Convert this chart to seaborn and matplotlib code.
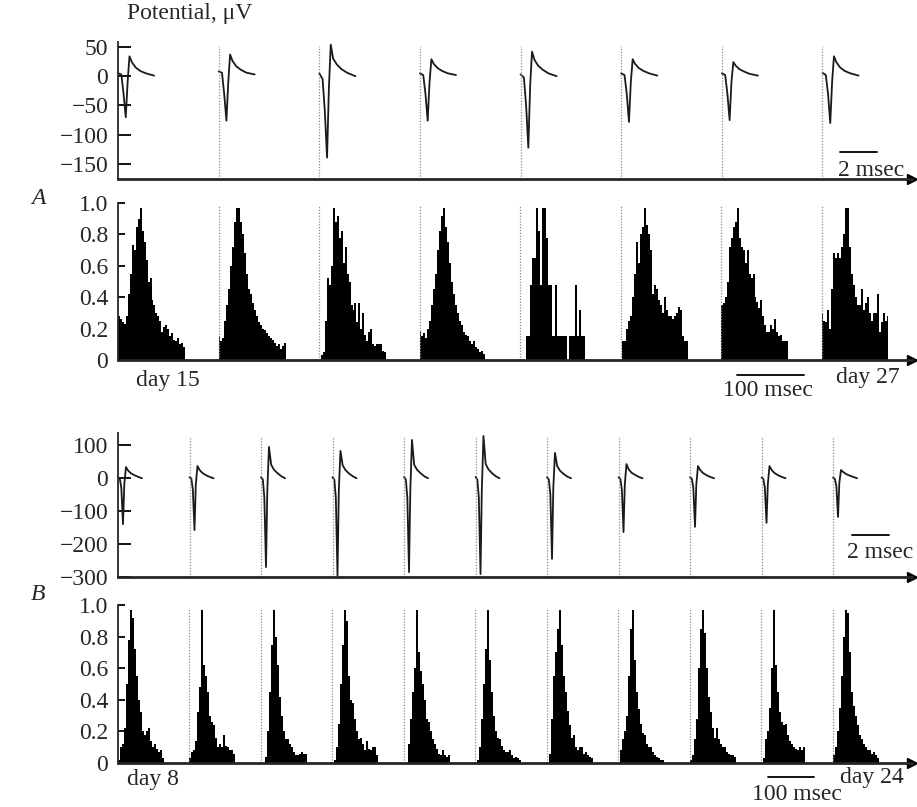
import numpy as np
import pandas as pd
import matplotlib
matplotlib.use('Agg')
import matplotlib.pyplot as plt
import seaborn as sns

# ---- spike waveforms, panel A (8 recordings), time in msec after onset, potential in uV
wave_t_a = [0, 0.18, 0.3, 0.42, 0.52, 0.62, 0.75, 0.95, 1.2, 1.5, 1.95]
wave_a = [
    [5, 3, -30, -70, -10, 34, 24, 15, 9, 5, 1],
    [8, 6, -30, -76, -10, 37, 26, 17, 11, 6, 3],
    [5, -5, -60, -139, -20, 54, 30, 20, 12, 6, 0],
    [5, 2, -30, -76, -10, 29, 21, 14, 9, 5, 2],
    [3, -2, -50, -122, -15, 42, 28, 18, 11, 5, 0],
    [5, 2, -30, -78, -10, 29, 21, 14, 9, 5, 1],
    [5, 2, -30, -75, -10, 24, 18, 12, 8, 4, 1],
    [6, 2, -30, -80, -10, 34, 24, 15, 9, 5, 1],
]

# ---- spike waveforms, panel B (11 recordings)
wave_t_b = [0, 0.1, 0.18, 0.27, 0.34, 0.43, 0.55, 0.7, 0.9, 1.1, 1.3]
wave_b = [
    [0, -3, -30, -140, -20, 33, 22, 14, 8, 3, -1],
    [2, -2, -35, -158, -20, 36, 24, 15, 8, 3, -1],
    [2, -5, -60, -270, -40, 94, 40, 25, 14, 5, -1],
    [2, -5, -60, -297, -40, 82, 38, 24, 13, 5, -1],
    [3, -5, -60, -285, -40, 115, 40, 25, 14, 5, -1],
    [3, -5, -60, -291, -40, 127, 42, 26, 14, 5, -1],
    [2, -5, -50, -245, -30, 76, 36, 22, 12, 4, -1],
    [2, -3, -35, -164, -20, 42, 26, 16, 9, 3, -1],
    [2, -3, -30, -148, -20, 36, 24, 15, 8, 3, -1],
    [1, -3, -30, -136, -20, 36, 24, 15, 8, 3, -1],
    [1, -3, -25, -118, -15, 24, 18, 12, 7, 3, -1],
]

# ---- normalised spike-time histograms over a 100 msec window
hist_a = [
    [0.28, 0.26, 0.24, 0.23, 0.28, 0.42, 0.55, 0.73, 0.70, 0.85, 0.90, 0.97, 0.82, 0.75, 0.64, 0.50, 0.52,
     0.38, 0.35, 0.30, 0.28, 0.25, 0.18, 0.21, 0.22, 0.20, 0.15, 0.17, 0.13, 0.12, 0.14, 0.10, 0.11, 0.08],
    [0.15, 0.12, 0.14, 0.25, 0.35, 0.45, 0.60, 0.72, 0.88, 0.97, 0.97, 0.88, 0.80, 0.68, 0.55, 0.45, 0.42,
     0.36, 0.32, 0.28, 0.24, 0.22, 0.20, 0.19, 0.17, 0.15, 0.14, 0.13, 0.11, 0.09, 0.10, 0.07, 0.09, 0.11],
    [0.00, 0.03, 0.05, 0.25, 0.52, 0.48, 0.60, 0.97, 0.88, 0.92, 0.78, 0.82, 0.62, 0.72, 0.55, 0.50, 0.35,
     0.32, 0.36, 0.24, 0.36, 0.20, 0.30, 0.16, 0.12, 0.18, 0.20, 0.10, 0.09, 0.10, 0.10, 0.10, 0.06, 0.05],
    [0.18, 0.15, 0.17, 0.14, 0.20, 0.25, 0.35, 0.45, 0.55, 0.70, 0.82, 0.92, 0.97, 0.85, 0.75, 0.62, 0.50,
     0.42, 0.35, 0.30, 0.25, 0.22, 0.18, 0.16, 0.15, 0.12, 0.10, 0.12, 0.08, 0.07, 0.05, 0.06, 0.04, 0.00],
    [0.00, 0.00, 0.00, 0.15, 0.15, 0.48, 0.65, 0.65, 0.97, 0.82, 0.48, 0.97, 0.97, 0.78, 0.48, 0.48, 0.15,
     0.15, 0.48, 0.15, 0.15, 0.15, 0.15, 0.15, 0.00, 0.15, 0.15, 0.15, 0.48, 0.15, 0.32, 0.15, 0.15, 0.00],
    [0.00, 0.12, 0.12, 0.20, 0.25, 0.28, 0.40, 0.55, 0.75, 0.62, 0.80, 0.85, 0.97, 0.86, 0.80, 0.70, 0.42,
     0.48, 0.45, 0.38, 0.35, 0.30, 0.40, 0.32, 0.28, 0.28, 0.26, 0.28, 0.30, 0.34, 0.32, 0.15, 0.12, 0.12],
    [0.35, 0.36, 0.40, 0.50, 0.72, 0.78, 0.85, 0.88, 0.97, 0.78, 0.72, 0.70, 0.62, 0.70, 0.55, 0.52, 0.55,
     0.40, 0.37, 0.33, 0.38, 0.28, 0.22, 0.18, 0.18, 0.22, 0.20, 0.26, 0.18, 0.15, 0.16, 0.12, 0.12, 0.12],
    [0.30, 0.25, 0.24, 0.32, 0.20, 0.45, 0.68, 0.65, 0.68, 0.65, 0.72, 0.80, 0.97, 0.97, 0.72, 0.55, 0.48,
     0.40, 0.35, 0.35, 0.45, 0.32, 0.36, 0.40, 0.30, 0.25, 0.30, 0.30, 0.42, 0.18, 0.24, 0.30, 0.25, 0.28],
]

hist_b = [
    [0.02, 0.10, 0.12, 0.22, 0.50, 0.78, 0.97, 0.92, 0.72, 0.55, 0.40, 0.32, 0.20, 0.18, 0.20, 0.22, 0.14,
     0.10, 0.12, 0.09, 0.07, 0.08, 0.03],
    [0.03, 0.07, 0.08, 0.14, 0.32, 0.48, 0.97, 0.62, 0.55, 0.45, 0.30, 0.26, 0.24, 0.16, 0.10, 0.12, 0.10,
     0.18, 0.11, 0.10, 0.08, 0.08, 0.06],
    [0.00, 0.00, 0.04, 0.20, 0.45, 0.75, 0.97, 0.80, 0.62, 0.42, 0.30, 0.20, 0.15, 0.15, 0.12, 0.10, 0.07,
     0.05, 0.05, 0.06, 0.07, 0.06, 0.06],
    [0.00, 0.02, 0.10, 0.25, 0.50, 0.75, 0.97, 0.90, 0.55, 0.40, 0.38, 0.28, 0.20, 0.15, 0.16, 0.12, 0.08,
     0.14, 0.09, 0.08, 0.10, 0.10, 0.05],
    [0.00, 0.00, 0.12, 0.28, 0.45, 0.60, 0.97, 0.70, 0.58, 0.50, 0.40, 0.28, 0.26, 0.20, 0.15, 0.12, 0.09,
     0.06, 0.05, 0.08, 0.05, 0.04, 0.05],
    [0.00, 0.02, 0.10, 0.28, 0.50, 0.72, 0.97, 0.65, 0.45, 0.30, 0.20, 0.16, 0.15, 0.11, 0.08, 0.07, 0.07,
     0.08, 0.05, 0.03, 0.04, 0.03, 0.02],
    [0.00, 0.06, 0.28, 0.55, 0.70, 0.85, 0.97, 0.75, 0.55, 0.45, 0.33, 0.24, 0.16, 0.18, 0.10, 0.08, 0.10,
     0.10, 0.06, 0.07, 0.05, 0.04, 0.03],
    [0.00, 0.08, 0.15, 0.20, 0.30, 0.55, 0.85, 0.97, 0.65, 0.45, 0.34, 0.25, 0.19, 0.18, 0.12, 0.10, 0.10,
     0.07, 0.05, 0.04, 0.03, 0.02, 0.02],
    [0.02, 0.05, 0.15, 0.28, 0.60, 0.85, 0.97, 0.82, 0.60, 0.42, 0.32, 0.22, 0.16, 0.22, 0.15, 0.12, 0.10,
     0.10, 0.07, 0.06, 0.05, 0.05, 0.04],
    [0.00, 0.03, 0.15, 0.20, 0.35, 0.60, 0.97, 0.62, 0.45, 0.32, 0.26, 0.24, 0.25, 0.18, 0.14, 0.12, 0.10,
     0.09, 0.08, 0.10, 0.08, 0.10, 0.00],
    [0.05, 0.10, 0.20, 0.35, 0.55, 0.80, 0.97, 0.95, 0.70, 0.45, 0.36, 0.30, 0.24, 0.18, 0.15, 0.12, 0.10,
     0.08, 0.08, 0.06, 0.07, 0.05, 0.03],
]

pot_ticks_a = [50, 0, -50, -100, -150]
pot_ticks_b = [100, 0, -100, -200, -300]
prob_ticks = [0, 0.2, 0.4, 0.6, 0.8, 1.0]
prob_labels = ['0', '0.2', '0.4', '0.6', '0.8', '1.0']

# layout (msec between successive recordings on a panel)
WIN = 100.0
step_hist_a, step_hist_b = 150.0, 155.4
step_wave_a, step_wave_b = 5.44, 3.865

sns.set_style('white')
plt.rcParams['font.family'] = ['Liberation Serif', 'DejaVu Serif']
plt.rcParams['axes.unicode_minus'] = True
FS = 17


def wave_frame(t, waves, step):
    rows = []
    for i, w in enumerate(waves):
        for tt, v in zip(t, w):
            rows.append({'t': i * step + tt, 'v': v, 'seg': i})
    return pd.DataFrame(rows)


def hist_frame(hists, step):
    rows, edges = [], []
    for i, h in enumerate(hists):
        bw = WIN / len(h)
        edges.extend(i * step + np.arange(len(h) + 1) * bw)
        for j, p in enumerate(h):
            rows.append({'t': i * step + (j + 0.5) * bw, 'p': p})
    return pd.DataFrame(rows), np.unique(np.round(edges, 6)).tolist()


def style_axis(ax, ticks, labels, ylim, xlim, tick_len):
    ax.set_xlim(*xlim)
    ax.set_ylim(*ylim)
    sns.despine(ax=ax)
    ax.spines['left'].set_linewidth(1.3)
    ax.spines['bottom'].set_linewidth(2.0)
    ax.set_xticks([])
    ax.set_yticks(ticks)
    ax.set_yticklabels(labels)
    ax.tick_params(axis='y', left=True, direction='in', length=tick_len, width=1.3, pad=7,
                   labelsize=FS, color='black')
    ax.set_xlabel('')
    ax.set_ylabel('')
    ax.patch.set_alpha(0)
    ax.plot([1.0], [0], marker='>', color='black', ms=7, transform=ax.transAxes, clip_on=False)


def seg_lines(ax, n, step, top):
    for i in range(1, n):
        ax.axvline(i * step, ymin=0, ymax=top, color='0.55', ls=(0, (1, 1.3)), lw=0.9)


fig = plt.figure(figsize=(9.17, 8.07), dpi=100)
L, W = 118 / 917, 794 / 917
ax_aw = fig.add_axes([L, 0.7782, W, 0.1698])
ax_ah = fig.add_axes([L, 0.5539, W, 0.1945])
ax_bw = fig.add_axes([L, 0.2850, W, 0.1784])
ax_bh = fig.add_axes([L, 0.0545, W, 0.1958])

# panel A waveforms
df = wave_frame(wave_t_a, wave_a, step_wave_a)
sns.lineplot(data=df, x='t', y='v', units='seg', estimator=None, color='#1a1a1a', lw=1.3, ax=ax_aw)
seg_lines(ax_aw, len(wave_a), step_wave_a, 0.97)
style_axis(ax_aw, pot_ticks_a, [f'{v:d}'.replace('-', '\u2212') for v in pot_ticks_a],
           (-175.6, 58.5), (0, 794 / 18.5), 9)
ax_aw.plot([39.0, 41.0], [-130, -130], color='black', lw=1.3)

# panel A histograms
df, edges = hist_frame(hist_a, step_hist_a)
sns.histplot(data=df, x='t', weights='p', bins=edges, color='black', alpha=1,
             linewidth=0, edgecolor='none', ax=ax_ah)
seg_lines(ax_ah, len(hist_a), step_hist_a, 0.98)
style_axis(ax_ah, prob_ticks, prob_labels, (0, 1.0), (0, 794 / 0.67), 5)
ax_ah.plot([924, 1024], [-0.096, -0.096], color='black', lw=1.3, clip_on=False)

# panel B waveforms
df = wave_frame(wave_t_b, wave_b, step_wave_b)
sns.lineplot(data=df, x='t', y='v', units='seg', estimator=None, color='#1a1a1a', lw=1.3, ax=ax_bw)
seg_lines(ax_bw, len(wave_b), step_wave_b, 0.97)
style_axis(ax_bw, pot_ticks_b, [f'{v:d}'.replace('-', '\u2212') for v in pot_ticks_b],
           (-300, 136), (0, 794 / 18.5), 9)
ax_bw.plot([39.7, 41.7], [-173, -173], color='black', lw=1.3)

# panel B histograms
df, edges = hist_frame(hist_b, step_hist_b)
sns.histplot(data=df, x='t', weights='p', bins=edges, color='black', alpha=1,
             linewidth=0, edgecolor='none', ax=ax_bh)
seg_lines(ax_bh, len(hist_b), step_hist_b, 0.98)
style_axis(ax_bh, prob_ticks, prob_labels, (0, 1.0), (0, 794 / 0.46), 5)
ax_bh.plot([1413, 1513], [-0.089, -0.089], color='black', lw=1.3, clip_on=False)


def ftext(x, y, s, **kw):
    fig.text(x / 917, 1 - y / 807, s, ha='center', va='center', fontsize=FS, **kw)


ftext(190, 14, 'Potential, \u03bcV')
ftext(38, 198, 'A', style='italic')
ftext(38, 594, 'B', style='italic')
ftext(871, 171, '2 msec')
ftext(880, 553, '2 msec')
ftext(768, 390, '100 msec')
ftext(797, 794, '100 msec')
ftext(168, 380, 'day 15')
ftext(868, 378, 'day 27')
ftext(153, 780, 'day 8')
ftext(872, 777, 'day 24')

fig.savefig('out.png', dpi=100)
